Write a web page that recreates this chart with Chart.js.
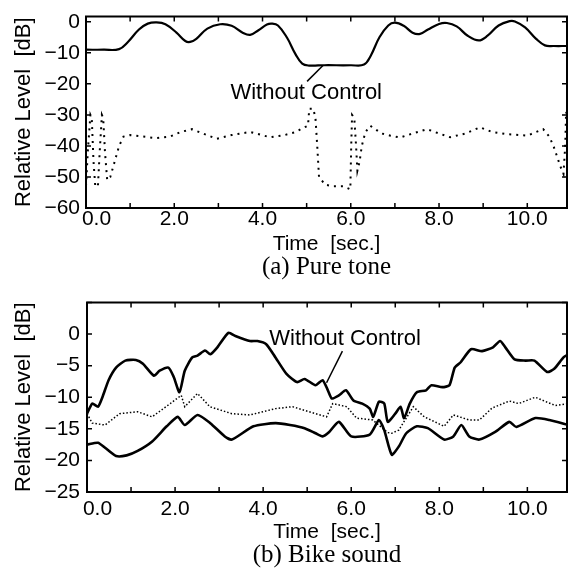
<!DOCTYPE html>
<html>
<head>
<meta charset="utf-8">
<script src="https://cdn.jsdelivr.net/npm/chart.js"></script>
<style>
    body { margin: 0; background: #fff; }
    canvas { position: absolute; left: 0; }
    #toneChart { top: 0; }
    #bikeChart { top: 285px; }
</style>
</head>
<body>
<canvas id="toneChart" width="569" height="285"></canvas>
<canvas id="bikeChart" width="569" height="284"></canvas>
<script>
// (a) Pure tone
const toneTime = [0.0, 0.4, 0.75, 0.95, 1.2, 1.4, 1.6, 1.8, 2.05, 2.25, 2.36, 2.5, 2.75, 3.04, 3.3, 3.55, 3.72, 3.9, 4.1, 4.21, 4.35, 4.55, 4.75, 4.9, 5.05, 5.4, 6.0, 6.3, 6.45, 6.65, 6.85, 7.0, 7.2, 7.4, 7.57, 7.75, 8.0, 8.18, 8.4, 8.65, 8.9, 9.1, 9.35, 9.6, 9.72, 9.95, 10.2, 10.4, 10.6, 10.9];
const toneWithout = [-9, -9, -8.8, -6.5, -2.5, -0.6, -0.2, -0.8, -3.5, -6.2, -6.5, -5.5, -2.2, -0.8, -1.3, -3.5, -4.2, -2.8, -0.9, -0.6, -1.2, -5, -10.5, -13.5, -14.1, -14, -14, -13.8, -11, -5, -1.2, -0.3, -1.3, -3.5, -3.9, -2.5, -0.7, -0.4, -1.5, -4.5, -6, -4.5, -1.2, 0.2, 0.1, -1.8, -5.5, -7.6, -7.8, -7.8];
const toneWithTime = [0.0, 0.04, 0.1, 0.13, 0.17, 0.21, 0.27, 0.31, 0.36, 0.39, 0.43, 0.48, 0.55, 0.65, 0.75, 0.85, 1.0, 1.3, 1.6, 1.9, 2.15, 2.4, 2.65, 2.96, 3.3, 3.72, 4.17, 4.5, 4.74, 4.95, 5.03, 5.06, 5.15, 5.2, 5.24, 5.28, 5.42, 5.6, 5.83, 5.99, 6.01, 6.03, 6.08, 6.12, 6.15, 6.2, 6.25, 6.33, 6.44, 6.7, 6.9, 7.12, 7.4, 7.73, 8.0, 8.25, 8.6, 8.93, 9.2, 9.54, 10.0, 10.2, 10.36, 10.5, 10.6, 10.75, 10.82, 10.86, 10.88, 10.9];
const toneWith = [-53, -42, -30, -31, -45, -53, -53, -42, -30, -31, -42, -51, -50, -45, -40, -37, -36.5, -37, -37.5, -37, -35.5, -34.6, -36, -37.7, -36.5, -35.5, -37.2, -36.5, -35.6, -34, -33.5, -28, -28, -31, -40, -50, -52.5, -53, -53, -54, -40, -30, -31, -40, -48, -45, -40, -35.6, -33.5, -36, -36.7, -37.3, -36, -34.6, -36, -37.2, -36, -34, -35.5, -36.2, -36.7, -35.5, -34.6, -37, -40.3, -46.6, -49, -40, -29, -30];

// (b) Bike sound
const bikeTime = [0, 0.12, 0.25, 0.35, 0.49, 0.66, 0.87, 1.11, 1.27, 1.52, 1.65, 1.85, 1.97, 2.1, 2.22, 2.39, 2.51, 2.68, 2.8, 2.96, 3.21, 3.37, 3.7, 3.87, 4.07, 4.28, 4.53, 4.77, 4.94, 5.19, 5.35, 5.47, 5.56, 5.72, 5.88, 6.05, 6.25, 6.42, 6.5, 6.63, 6.75, 6.83, 7.0, 7.12, 7.2, 7.33, 7.49, 7.7, 7.82, 8.07, 8.23, 8.35, 8.48, 8.72, 8.97, 9.22, 9.38, 9.5, 9.71, 9.96, 10.16, 10.45, 10.61, 10.82, 10.93];
const bikeWithout = [-12.6, -11, -11.5, -10, -7.3, -5.3, -4.2, -4.1, -4.7, -6.6, -5.8, -5.3, -6.8, -9.2, -5.8, -3.7, -3.4, -2.6, -3.2, -2.1, 0.2, -0.3, -1.1, -1.1, -1.6, -3.7, -6.3, -7.6, -7.1, -8.1, -7.3, -8.9, -10.2, -9.7, -8.9, -10.5, -11, -11.8, -13.1, -10.7, -11, -13.9, -12.6, -11.5, -13.3, -11, -9.2, -8.9, -8.1, -8.4, -8.1, -5.3, -4.5, -2.4, -2.7, -2.1, -1.1, -2.1, -4, -4.2, -4.2, -6, -5.5, -3.7, -3.2];
const bikeDotTime = [0, 0.12, 0.41, 0.74, 1.15, 1.48, 1.89, 2.14, 2.22, 2.51, 2.79, 3.29, 3.7, 4.28, 4.67, 5.19, 5.44, 5.58, 5.9, 6.12, 6.49, 6.83, 6.92, 7.08, 7.41, 7.66, 8.11, 8.32, 8.68, 8.91, 9.2, 9.59, 9.8, 10.18, 10.63, 10.93];
const bikeDotted = [-12.6, -14.1, -14.4, -12.6, -12.3, -13.1, -11, -9.7, -11.5, -9.4, -11.5, -12.6, -12.8, -11.8, -11.5, -12.6, -13.1, -11, -11.5, -13.3, -13.6, -15.6, -15.7, -15.2, -11.5, -13.1, -14.6, -12.8, -13.6, -13.6, -11.7, -10.6, -11, -10, -11.3, -11];
const bikeLowTime = [0, 0.25, 0.41, 0.66, 0.9, 1.15, 1.48, 1.81, 2.06, 2.22, 2.51, 2.8, 3.13, 3.29, 3.78, 4.28, 4.61, 4.94, 5.19, 5.35, 5.5, 5.72, 6.0, 6.42, 6.63, 6.75, 6.92, 7.08, 7.25, 7.49, 7.74, 8.11, 8.32, 8.5, 8.68, 8.91, 9.27, 9.59, 9.75, 10.18, 10.5, 10.93];
const bikeLower = [-17.5, -17.2, -18, -19.3, -19.2, -18.5, -17, -14.6, -13.1, -14.4, -12.8, -14.1, -16.2, -16.7, -14.6, -14.1, -14.4, -14.9, -15.7, -16.2, -15.5, -13.9, -16.2, -15.9, -13.6, -15.2, -19.1, -17.8, -15.7, -14.6, -14.9, -16.7, -16.2, -14.4, -16.2, -16.7, -15.5, -13.9, -14.7, -13.3, -13.6, -14.4];

// "Without Control" labels and their leader lines (time, dB)
const toneNoteAt = [4.99, -23];
const toneLeader = [[5.01, -19.2], [5.37, -14.1]];
const bikeNoteAt = [5.86, -0.8];
const bikeLeader = [[5.8, -2.7], [5.44, -7.7]];

Chart.defaults.font.family = "'Liberation Sans', Arial, sans-serif";
Chart.defaults.color = "#000";

const toPoints = (xs, ys) => xs.map((x, i) => ({ x: x, y: ys[i] }));
const pairPoints = pairs => pairs.map(p => ({ x: p[0], y: p[1] }));

// box round the plot, inward tick marks, note and caption
const framePlugin = {
    id: "frame",
    afterDraw(chart, args, opts) {
        const { ctx, chartArea: area, scales } = chart;
        ctx.save();
        ctx.strokeStyle = "#000";
        ctx.lineWidth = 2;
        ctx.strokeRect(area.left, area.top, area.right - area.left, area.bottom - area.top);
        ctx.lineWidth = 1.5;
        ctx.beginPath();
        scales.x.ticks.forEach(tick => {
            const px = scales.x.getPixelForValue(tick.value);
            ctx.moveTo(px, area.bottom);
            ctx.lineTo(px, area.bottom - 5);
            ctx.moveTo(px, area.top);
            ctx.lineTo(px, area.top + 5);
        });
        scales.y.ticks.forEach(tick => {
            const py = scales.y.getPixelForValue(tick.value);
            ctx.moveTo(area.left, py);
            ctx.lineTo(area.left + 5, py);
            ctx.moveTo(area.right, py);
            ctx.lineTo(area.right - 5, py);
        });
        ctx.stroke();

        ctx.fillStyle = "#000";
        ctx.textAlign = "center";
        ctx.textBaseline = "middle";
        ctx.font = "22px 'Liberation Sans'";
        ctx.fillText("Without Control", scales.x.getPixelForValue(opts.noteAt[0]), scales.y.getPixelForValue(opts.noteAt[1]));
        ctx.font = "25px 'Liberation Serif'";
        ctx.fillText(opts.caption, (area.left + area.right) / 2, area.bottom + opts.captionGap);
        ctx.restore();
    }
};

function solid(points, width, tension) {
    return { data: points, showLine: true, borderColor: "#000", borderWidth: width, pointRadius: 0, tension: tension };
}

function dotted(points, width, dash) {
    return { data: points, showLine: true, borderColor: "#000", borderWidth: width, borderDash: dash, pointRadius: 0, tension: 0 };
}

function drawPanel(canvasId, panel) {
    return new Chart(document.getElementById(canvasId), {
        type: "scatter",
        data: { datasets: panel.datasets },
        options: {
            responsive: false,
            animation: false,
            layout: { padding: { top: 14, right: 2, bottom: panel.bottomPad, left: 0 } },
            plugins: {
                legend: { display: false },
                tooltip: { enabled: false },
                frame: { noteAt: panel.noteAt, caption: panel.caption, captionGap: panel.captionGap }
            },
            scales: {
                x: {
                    type: "linear",
                    min: 0,
                    max: 10.9,
                    grid: { display: false, drawTicks: false },
                    border: { display: false },
                    ticks: {
                        stepSize: 1,
                        includeBounds: false,
                        autoSkip: false,
                        maxRotation: 0,
                        padding: panel.xPad,
                        font: { size: 21, lineHeight: 1 },
                        callback: v => v === 0 ? "\u2002\u20020.0" : (v % 2 === 0 ? v.toFixed(1) : "")
                    },
                    title: { display: true, text: "Time  [sec.]", font: { size: 21, lineHeight: 1 }, padding: 0 },
                    afterFit: s => { s.height = panel.xHeight; }
                },
                y: {
                    min: panel.yMin,
                    max: panel.yMax,
                    grid: { display: false, drawTicks: false },
                    border: { display: false },
                    ticks: {
                        stepSize: panel.yStep,
                        includeBounds: false,
                        padding: panel.yPad,
                        font: { size: 21, lineHeight: 1 },
                        callback: v => v > 0 ? "" : (v < 0 ? "\u2212" + Math.abs(v) : "0")
                    },
                    title: { display: true, text: "Relative Level  [dB]", font: { size: 22, lineHeight: 1 }, padding: { top: 13, bottom: 0 } },
                    afterFit: s => { s.width = panel.yWidth; }
                }
            }
        },
        plugins: [framePlugin]
    });
}

drawPanel("toneChart", {
    datasets: [
        solid(toPoints(toneTime, toneWithout), 2.2, 0.4),
        dotted(toPoints(toneWithTime, toneWith), 2, [2, 5]),
        solid(pairPoints(toneLeader), 1.5, 0)
    ],
    yMin: -60, yMax: 1.7, yStep: 10,
    yWidth: 86, yPad: 6,
    xPad: 1, xHeight: 47, bottomPad: 30,
    noteAt: toneNoteAt,
    caption: "(a) Pure tone", captionGap: 59
});

drawPanel("bikeChart", {
    datasets: [
        solid(toPoints(bikeTime, bikeWithout), 2.6, 0.2),
        dotted(toPoints(bikeDotTime, bikeDotted), 1.5, [1.5, 2]),
        solid(toPoints(bikeLowTime, bikeLower), 2.6, 0.2),
        solid(pairPoints(bikeLeader), 1.5, 0)
    ],
    yMin: -25, yMax: 5, yStep: 5,
    yWidth: 87, yPad: 7,
    xPad: 7, xHeight: 51, bottomPad: 26,
    noteAt: bikeNoteAt,
    caption: "(b) Bike sound", captionGap: 63
});
</script>
</body>
</html>
